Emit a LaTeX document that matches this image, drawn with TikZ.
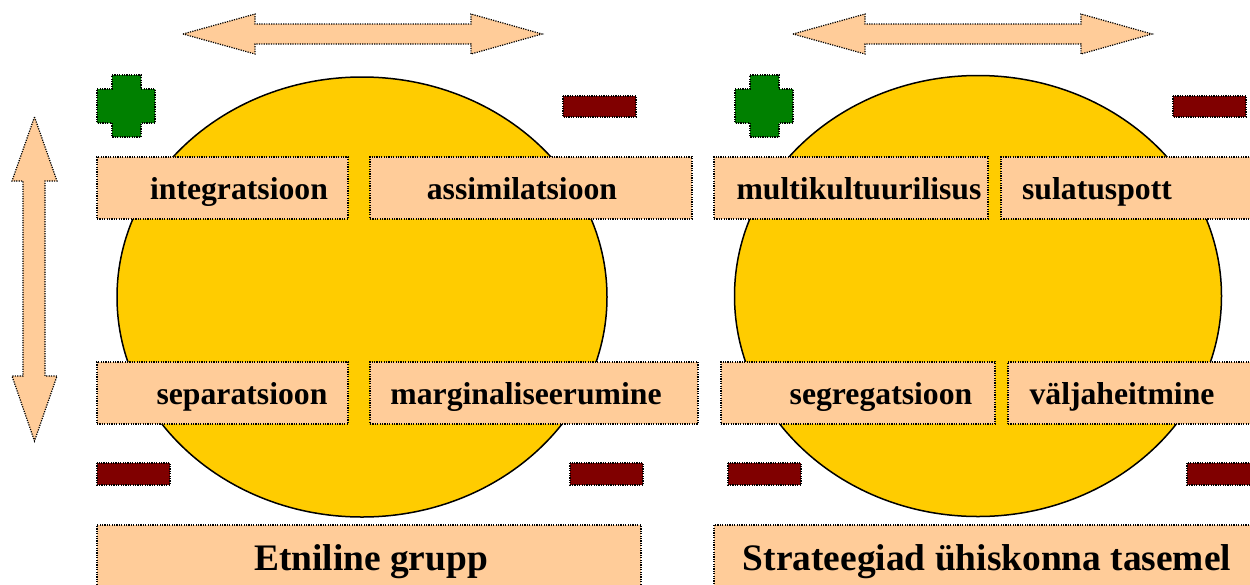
\documentclass[tikz,border=0pt]{standalone}
\usepackage{fontspec}
\setmainfont{Liberation Serif}
\usetikzlibrary{positioning,shapes.geometric}
\definecolor{peach}{RGB}{255,204,153}
\definecolor{sun}{RGB}{255,204,0}
\definecolor{gain}{RGB}{0,128,0}
\definecolor{loss}{RGB}{128,0,0}
\tikzstyle{box}=[rectangle, draw, dash pattern=on 1.2pt off 1.2pt, line width=1.2pt, fill=peach, inner sep=0pt]
\tikzstyle{word}=[font=\fontsize{31.7}{36}\selectfont\bfseries, inner sep=0pt, anchor=base]
\tikzstyle{title}=[font=\fontsize{37.4}{42}\selectfont\bfseries, inner sep=0pt, anchor=base]
\tikzset{sign/.style={draw, dash pattern=on 1.2pt off 1.2pt, line width=1.2pt}}
\tikzset{group/.style={ellipse, draw, line width=1.5pt, fill=sun, minimum width=490pt, minimum height=440pt}}

\begin{document}
\begin{tikzpicture}[x=1pt,y=-1pt]
  \useasboundingbox (0,0) rectangle (1250,584);
  \clip (0,0) rectangle (1250,584);

  %% Double arrows
  \filldraw[sign, fill=peach] (183,34) -- (255,14) -- (255,24) -- (471,24) -- (471,14) -- (542,34)
    -- (471,54) -- (471,44) -- (255,44) -- (255,54) -- cycle;
  \filldraw[sign, fill=peach] (793,34) -- (865,14) -- (865,24) -- (1081,24) -- (1081,14) -- (1152,34)
    -- (1081,54) -- (1081,44) -- (865,44) -- (865,54) -- cycle;
  \filldraw[sign, fill=peach] (34.5,117) -- (57,181) -- (45,181) -- (45,376) -- (57,376) -- (34.5,441)
    -- (12,376) -- (23,376) -- (23,181) -- (12,181) -- cycle;

  %% Groups
  \draw (362,297) node[group] (G1) {};
  \draw (978,296) node[group, minimum width=487pt, minimum height=441pt] (G2) {};

  %% Plus and minus
  \filldraw[sign, fill=gain] (112,75) -- (141,75) -- (141,89) -- (155,89) -- (155,123) -- (141,123)
    -- (141,137) -- (112,137) -- (112,123) -- (97,123) -- (97,89) -- (112,89) -- cycle;
  \filldraw[sign, fill=gain] (750,75) -- (779,75) -- (779,89) -- (793,89) -- (793,123) -- (779,123)
    -- (779,137) -- (750,137) -- (750,123) -- (735,123) -- (735,89) -- (750,89) -- cycle;
  \filldraw[sign, fill=loss] (563,96) rectangle (636,117);
  \filldraw[sign, fill=loss] (1173,96) rectangle (1246,117);
  \filldraw[sign, fill=loss] (97,463) rectangle (170,485);
  \filldraw[sign, fill=loss] (570,463) rectangle (643,485);
  \filldraw[sign, fill=loss] (728,463) rectangle (801,485);
  \filldraw[sign, fill=loss] (1187,463) rectangle (1262,485);

  %% Strategy boxes
  \draw (222.5,188) node[box, minimum width=251, minimum height=62] (B11) {};
  \draw (531,188) node[box, minimum width=322, minimum height=62] (B12) {};
  \draw (222.5,393) node[box, minimum width=251, minimum height=62] (B21) {};
  \draw (534,393) node[box, minimum width=328, minimum height=62] (B22) {};
  \draw (851,188) node[box, minimum width=274, minimum height=62] (B13) {};
  \draw (1131.5,188) node[box, minimum width=261, minimum height=62] (B14) {};
  \draw (858,393) node[box, minimum width=274, minimum height=62] (B23) {};
  \draw (1135,393) node[box, minimum width=254, minimum height=62] (B24) {};

  \draw (239,199) node[word] (T11) {integratsioon};
  \draw (522,199) node[word] (T12) {assimilatsioon};
  \draw (242,404) node[word] (T21) {separatsioon};
  \draw (526,404) node[word] (T22) {marginaliseerumine};
  \draw (859,199) node[word] (T13) {multikultuurilisus};
  \draw (1097,199) node[word] (T14) {sulatuspott};
  \draw (881,404) node[word] (T23) {segregatsioon};
  \draw (1122,404) node[word] (T24) {väljaheitmine};

  %% Captions
  \draw (369,562.5) node[box, minimum width=544, minimum height=75] (C1) {};
  \draw (988,562.5) node[box, minimum width=548, minimum height=75] (C2) {};
  \draw (371,570) node[title] (L1) {Etniline grupp};
  \draw (987,570) node[title] (L2) {Strateegiad ühiskonna tasemel};
\end{tikzpicture}
\end{document}
